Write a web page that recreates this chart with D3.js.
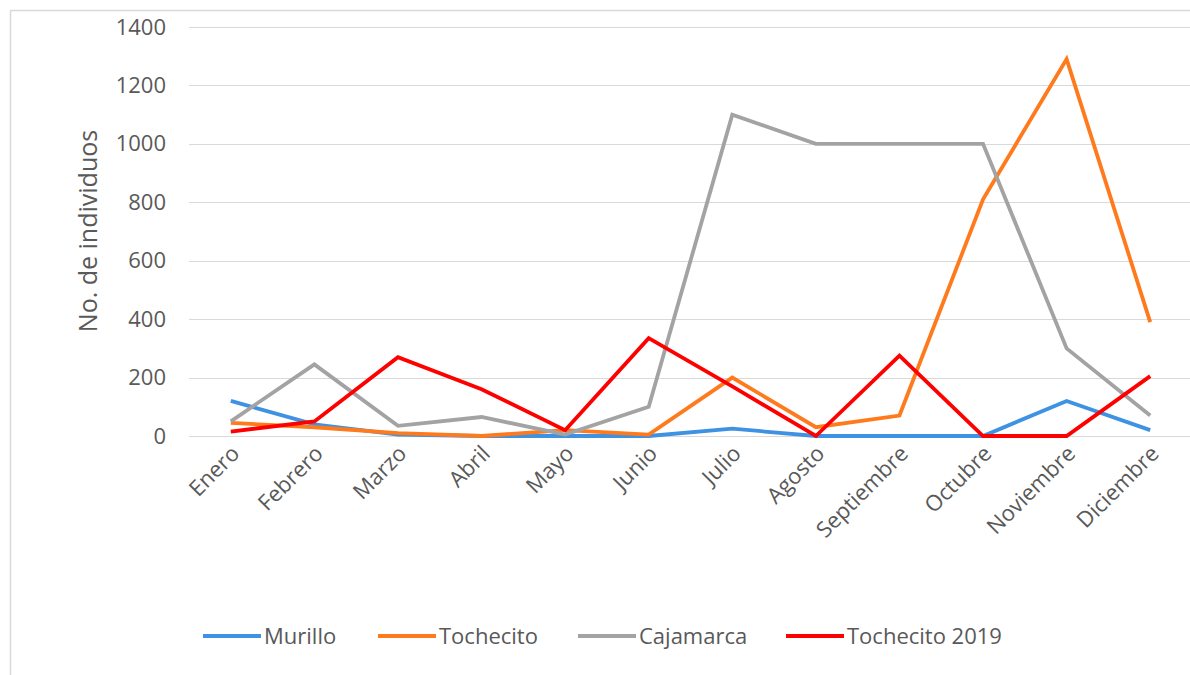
<!DOCTYPE html>
<html><head><meta charset="utf-8">
<script src="https://cdn.jsdelivr.net/npm/d3@7"></script>
<style>body{margin:0;background:#fff}svg{display:block}</style>
</head><body>
<svg id="c" width="1190" height="675"></svg>
<script>
const months = ["Enero","Febrero","Marzo","Abril","Mayo","Junio","Julio","Agosto","Septiembre","Octubre","Noviembre","Diciembre"];
const murillo = [120,40,5,0,0,0,25,0,0,0,120,20];
const tochecito = [45,30,10,0,20,5,200,30,70,810,1290,390];
const cajamarca = [50,245,35,65,5,100,1100,1000,1000,1000,300,70];
const tochecito2019 = [15,50,270,160,20,335,170,0,275,0,0,205];
const seriesNames = ["Murillo","Tochecito","Cajamarca","Tochecito 2019"];
const seriesColors = ["#3f92e2","#ff7a1c","#a3a3a3","#ff0000"];
const yTicks = [0,200,400,600,800,1000,1200,1400];

const series = [murillo, tochecito, cajamarca, tochecito2019];
const svg = d3.select("#c");
const font = "'Open Sans', sans-serif";
const txt = "#595959";

svg.append("rect").attr("x",10.5).attr("y",10.5).attr("width",1200).attr("height",700)
  .attr("fill","#fff").attr("stroke","#d9d9d9").attr("stroke-width",1.5);

const x = d3.scaleBand().domain(months).range([189, 1192]);
const y = d3.scaleLinear().domain([0,1400]).range([436, 27]);

const g = svg.append("g");
g.selectAll("line.grid").data(yTicks).join("line")
  .attr("x1",189).attr("x2",1190)
  .attr("y1",d=>Math.round(y(d))+0.5).attr("y2",d=>Math.round(y(d))+0.5)
  .attr("stroke","#d9d9d9").attr("stroke-width",1.2);

const yAxis = svg.append("g").attr("transform","translate(166,0)")
  .call(d3.axisLeft(y).tickValues(yTicks).tickSize(0).tickPadding(0).tickFormat(d3.format("d")));
yAxis.select(".domain").remove();
yAxis.selectAll("text").attr("font-family",font).attr("font-size",22).attr("fill",txt);

const xAxis = svg.append("g").attr("transform","translate(0,436)")
  .call(d3.axisBottom(x).tickSize(0).tickPadding(0));
xAxis.select(".domain").remove();
xAxis.selectAll(".tick text")
  .attr("font-family",font).attr("font-size",22).attr("fill",txt)
  .attr("text-anchor","end").attr("dy",0).attr("y",0)
  .attr("transform","translate(10,19) rotate(-45)");

svg.append("text").attr("transform","translate(97,231) rotate(-90)")
  .attr("text-anchor","middle").attr("font-family",font).attr("font-size",25).attr("fill",txt)
  .text("No. de individuos");

const line = d3.line().x((d,i)=>x(months[i])+x.bandwidth()/2).y(d=>y(d));
series.forEach((s,k)=>{
  svg.append("path").datum(s).attr("d",line).attr("fill","none")
    .attr("stroke",seriesColors[k]).attr("stroke-width",3.8).attr("stroke-linejoin","miter");
});

const legX = [203, 378, 578, 786];
const leg = svg.append("g");
seriesNames.forEach((n,k)=>{
  leg.append("line").attr("x1",legX[k]).attr("x2",legX[k]+58).attr("y1",636).attr("y2",636)
    .attr("stroke",seriesColors[k]).attr("stroke-width",3.8);
  leg.append("text").attr("x",legX[k]+61).attr("y",636).attr("dy","0.35em")
    .attr("font-family",font).attr("font-size",22).attr("fill",txt).text(n);
});
</script>
</body></html>
